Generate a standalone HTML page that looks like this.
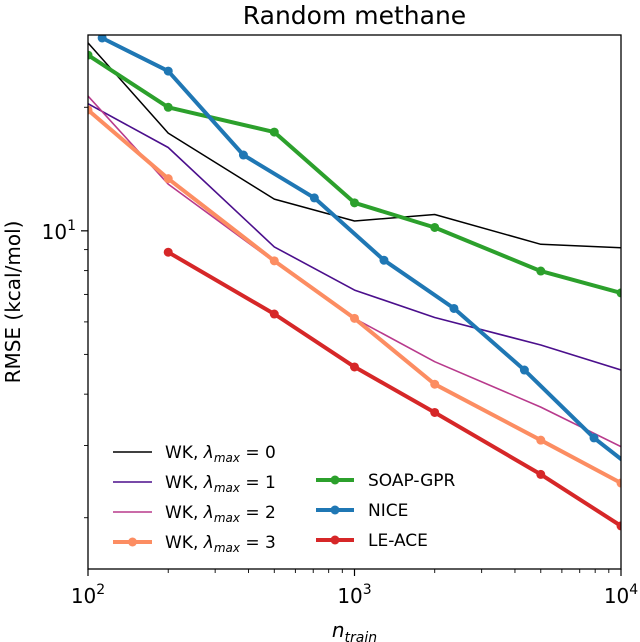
<!DOCTYPE html>
<html><head><meta charset="utf-8"><style>
html,body{margin:0;padding:0;background:#fff;}
svg{display:block;font-family:"DejaVu Sans","Liberation Sans",sans-serif;}
</style></head><body>
<svg id="chart" width="640" height="642" viewBox="0 0 640 642" xmlns="http://www.w3.org/2000/svg">
<defs><clipPath id="clip"><rect x="88" y="35" width="533" height="534"/></clipPath></defs>
<text x="354.5" y="24" font-size="25" text-anchor="middle">Random methane</text>
<g id="grid"></g>
<g id="series" clip-path="url(#clip)"></g>
<rect x="88" y="35" width="533" height="534" fill="none" stroke="#000" stroke-width="1.3"/>
<g id="axes"></g>
<text transform="translate(20,302) rotate(-90)" font-size="20" text-anchor="middle">RMSE (kcal/mol)</text>
<text x="354.5" y="637" font-size="20" text-anchor="middle" font-style="italic">n<tspan font-size="14" dy="5">train</tspan></text>
<g id="legend"></g>
</svg>
<script>
const nWK = [100,200,500,1000,2000,5000,10000];
const wk0 = [28.7,17.3,11.95,10.57,10.96,9.27,9.09];
const wk1 = [20.4,15.96,9.14,7.17,6.15,5.27,4.58];
const wk2 = [21.3,13.0,8.4,6.12,4.80,3.72,2.98];
const wk3 = [19.7,13.4,8.45,6.12,4.23,3.09,2.43];
const nSOAP = [100,200,500,1000,2000,5000,10000];
const soap = [26.8,20.0,17.4,11.7,10.19,7.98,7.06];
const nNICE = [113,200,383,707,1290,2362,4340,7920,14500];
const nice = [29.5,24.5,15.3,12.03,8.48,6.47,4.58,3.13,2.3];
const nACE = [200,500,1000,2000,5000,10000];
const ace = [8.87,6.27,4.66,3.61,2.55,1.91];
const xMajor = [100,1000,10000];
const xMajorLabels = ["2","3","4"];
const yMinor = [2,3,4,5,6,7,8,9,20];

const NS="http://www.w3.org/2000/svg";
const X0=88,X1=621,Y0=35,Y1=569;
function xs(n){return X0+(X1-X0)*(Math.log10(n)-2)/2;}
const LMIN=Math.log10(1.5),LMAX=Math.log10(30);
function ys(v){return Y1-(Y1-Y0)*(Math.log10(v)-LMIN)/(LMAX-LMIN);}
function mk(tag,attrs,parent){const e=document.createElementNS(NS,tag);for(const k in attrs)e.setAttribute(k,attrs[k]);parent.appendChild(e);return e;}

const axes=document.getElementById('axes');
// x ticks
xMajor.forEach((n,i)=>{
  const t=mk('line',{x1:xs(n),x2:xs(n),y1:Y1,y2:Y1+7,stroke:'#000','stroke-width':1.2},axes);
  
  
  const tx=mk('text',{x:xs(n),y:Y1+34,'font-size':20,'text-anchor':'middle'},axes);
  
  
  tx.innerHTML='10<tspan font-size="14" dy="-9">'+xMajorLabels[i]+'</tspan>';
});
for(let d=100;d<10000;d*=10){for(let k=2;k<10;k++){
  const m=mk('line',{x1:xs(k*d),x2:xs(k*d),y1:Y1,y2:Y1+4,stroke:'#000','stroke-width':0.9},axes);
  
  
}}
// y ticks
const yt=mk('line',{x1:X0-7,x2:X0,y1:ys(10),y2:ys(10),stroke:'#000','stroke-width':1.2},axes);


const yl=mk('text',{x:X0-12,y:ys(10)+8,'font-size':20,'text-anchor':'end'},axes);


yl.innerHTML='10<tspan font-size="14" dy="-9">1</tspan>';
yMinor.forEach(v=>{
  const m=mk('line',{x1:X0-4,x2:X0,y1:ys(v),y2:ys(v),stroke:'#000','stroke-width':0.9},axes);
  
  
});

const series=document.getElementById('series');
function draw(name,ns,vs,color,w,marker){
  const g=mk('g',{},series);
  
  
  const pts=ns.map((n,i)=>xs(n).toFixed(1)+','+ys(vs[i]).toFixed(1)).join(' ');
  const p=mk('polyline',{points:pts,fill:'none',stroke:color,'stroke-width':w,'stroke-linejoin':'round'},g);
  
  
  if(marker){ns.forEach((n,i)=>{
    const c=mk('circle',{cx:xs(n),cy:ys(vs[i]),r:4.5,fill:color},g);
    
    
  });}
}
draw('wk0-series',nWK,wk0,'#000000',1.5,false);
draw('wk1-series',nWK,wk1,'#4b0f8c',1.6,false);
draw('wk2-series',nWK,wk2,'#b83a8c',1.6,false);
draw('wk3-series',nWK,wk3,'#fc8d62',4,true);
draw('soap-gpr-series',nSOAP,soap,'#2ca02c',4,true);
draw('nice-series',nNICE,nice,'#1f77b4',4,true);
draw('le-ace-series',nACE,ace,'#d62728',4,true);

const lg=document.getElementById('legend');
const left=[['#000000',1.5,false,'0'],['#4b0f8c',1.6,false,'1'],['#b83a8c',1.6,false,'2'],['#fc8d62',4,true,'3']];
left.forEach((e,i)=>{
  const y=452+30*i;
  const l=mk('line',{x1:113,x2:152,y1:y,y2:y,stroke:e[0],'stroke-width':e[1]},lg);
  
  
  if(e[2]){const c=mk('circle',{cx:132.5,cy:y,r:4.5,fill:e[0]},lg);
    
    }
  const t=mk('text',{x:165,y:y+6,'font-size':17},lg);
  
  
  t.innerHTML='WK, <tspan font-style="italic">λ</tspan><tspan font-style="italic" font-size="12" dy="4">max</tspan><tspan dy="-4"> = '+e[3]+'</tspan>';
});
const right=[['#2ca02c','SOAP-GPR','soap-gpr'],['#1f77b4','NICE','nice'],['#d62728','LE-ACE','le-ace']];
right.forEach((e,i)=>{
  const y=480+30*i;
  const l=mk('line',{x1:316,x2:354,y1:y,y2:y,stroke:e[0],'stroke-width':4},lg);
  
  
  const c=mk('circle',{cx:335,cy:y,r:4.5,fill:e[0]},lg);
  
  
  const t=mk('text',{x:368,y:y+6,'font-size':17},lg);
  
  
  t.textContent=e[1];
});
</script>
</body></html>
